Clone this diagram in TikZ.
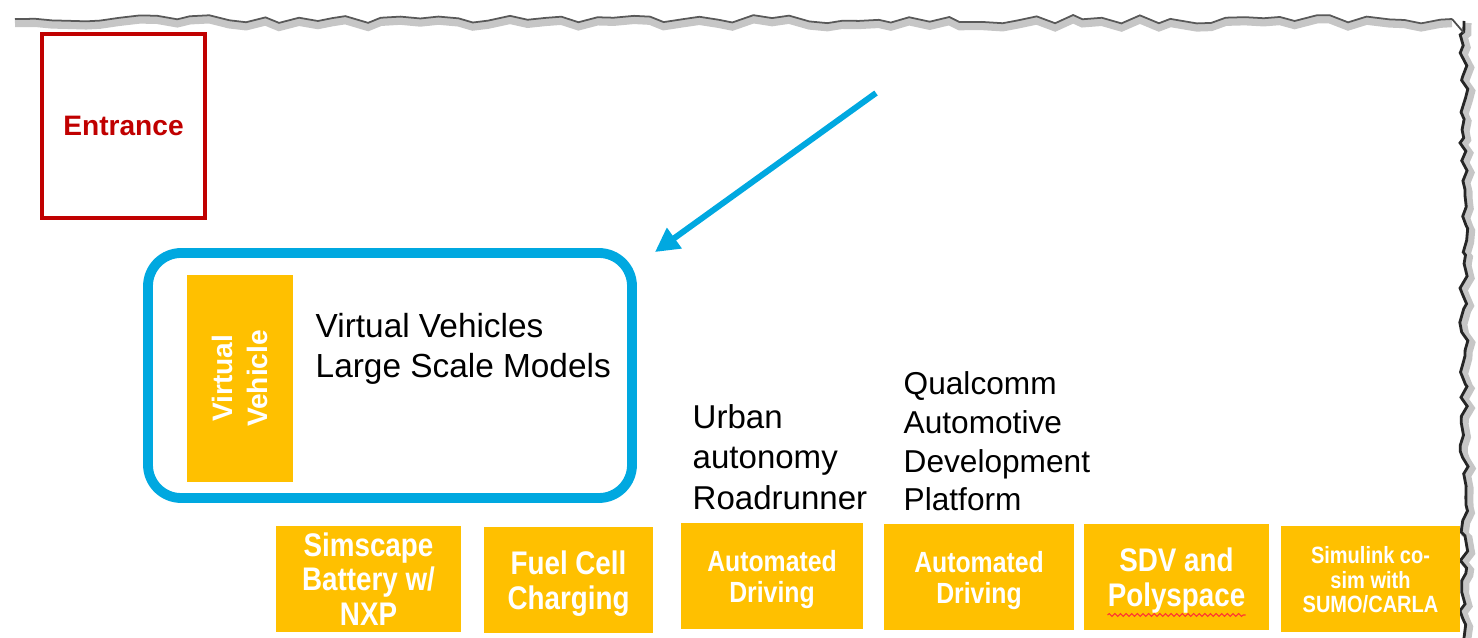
\documentclass[tikz,border=0pt]{standalone}
\usepackage{fontspec}
\setmainfont{Liberation Sans}
\newfontfamily\tilefont[FakeStretch=0.85]{Liberation Sans}
\usetikzlibrary{positioning,decorations.pathmorphing,arrows.meta}
\definecolor{tileyellow}{HTML}{FFC000}
\definecolor{entrred}{HTML}{C00000}
\definecolor{frameblue}{HTML}{00A8E0}
\tikzset{
  tile/.style={rectangle, fill=tileyellow, minimum width=1.85cm, minimum height=1.06cm, inner sep=0pt, text depth=0pt, align=center, text=white, font=\tilefont\bfseries\fontsize{9.3}{9.8}\selectfont},
  note/.style={anchor=west, align=left, inner sep=0pt},
  tornedge/.style={decorate, decoration={random steps, segment length=5pt, amplitude=1.3pt}},
  tornside/.style={decorate, decoration={random steps, segment length=2.5pt, amplitude=1.2pt}}
}

\begin{document}
\begin{tikzpicture}
\useasboundingbox (0,0) rectangle (14.78,6.38);
% torn paper edge with its shadow
\pgfmathsetseed{11}
\draw[tornedge, gray!45, line width=2.4pt] (0.15,6.15) -- (14.52,6.15);
\pgfmathsetseed{11}
\draw[tornedge, gray!70!black, line width=.5pt] (0.15,6.19) -- (14.52,6.19);
\pgfmathsetseed{5}
\draw[tornside, gray!45, line width=2pt] (14.68,6.15) -- (14.68,0);
\pgfmathsetseed{5}
\draw[tornside, black!85, line width=.8pt] (14.64,6.17) -- (14.64,0);
\draw[gray!60!black, line width=.5pt] (14.52,6.19) -- (14.64,6.05);

\node[draw=entrred, line width=1.1pt, minimum width=1.63cm, minimum height=1.84cm, text=entrred, font=\bfseries\fontsize{8}{9.6}\selectfont] (entr) at (1.235,5.12) {Entrance};

\node[draw=frameblue, line width=2.8pt, rounded corners=.33cm, minimum width=4.84cm, minimum height=2.45cm] (frame) at (3.90,2.625) {};
\node[tile, rotate=90, minimum width=2.07cm, minimum height=1.06cm, font=\bfseries\fontsize{8}{10}\selectfont] (vv) at (2.40,2.595) {Virtual\\Vehicle};
\node[note, font=\fontsize{9.5}{11.4}\selectfont] (vvtext) at (3.15,2.89) {Virtual Vehicles\\Large Scale Models};

\coordinate (tail) at (8.76,5.45);
\draw[-{Triangle[length=.24cm, width=.24cm]}, frameblue, line width=1.7pt] (tail) -- ([xshift=.18cm,yshift=-.04cm]frame.north east);

\node[note, font=\fontsize{9.4}{11.6}\selectfont] (urban) at (6.92,1.81) {Urban\\autonomy\\Roadrunner};
\node[note, font=\fontsize{9}{11}\selectfont] (qcom) at (9.03,1.965) {Qualcomm\\Automotive\\Development\\Platform};

% bottom row of demo tiles
\node[tile] (bat) at (3.685,0.59) {Simscape\\Battery w/\\NXP};
\node[tile, minimum width=1.69cm, right of=bat, xshift=1cm, yshift=-.01cm] (fuel) {Fuel Cell\\Charging};
\node[tile, minimum width=1.82cm, right of=fuel, xshift=1.035cm, yshift=.035cm, font=\tilefont\bfseries\fontsize{8.3}{8.8}\selectfont] (adrv1) {Automated\\Driving};
\node[tile, minimum width=1.90cm, right of=adrv1, xshift=1.07cm, yshift=-.005cm, font=\tilefont\bfseries\fontsize{8.3}{8.8}\selectfont] (adrv2) {Automated\\Driving};
\node[tile, right of=adrv2, xshift=.975cm] (sdv) {SDV and\\Polyspace};
\node[tile, minimum width=1.79cm, right of=sdv, xshift=.94cm, yshift=-.025cm, font=\tilefont\bfseries\fontsize{6.7}{7}\selectfont] (simlk) {Simulink co-\\sim with\\SUMO/CARLA};
\draw[decorate, decoration={snake, amplitude=.4pt, segment length=1.6pt}, red!80, line width=.3pt] ([xshift=-.69cm,yshift=-.38cm]sdv.center) -- ([xshift=.69cm,yshift=-.38cm]sdv.center);
\end{tikzpicture}
\end{document}
